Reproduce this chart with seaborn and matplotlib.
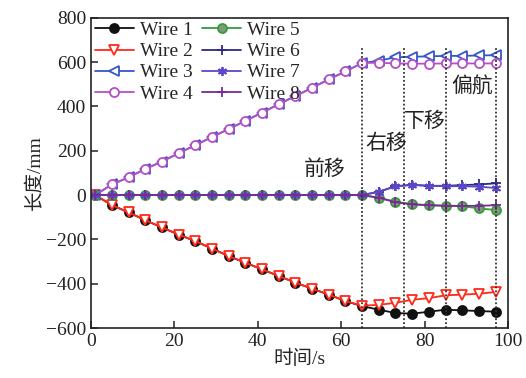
import matplotlib
matplotlib.use("Agg")
import matplotlib.pyplot as plt
import seaborn as sns
import pandas as pd

# time axis (s)
time = [1, 5, 9, 13, 17, 21, 25, 29, 33, 37, 41, 45, 49,
        53, 57, 61, 65, 69, 73, 77, 81, 85, 89, 93, 97]

wire1 = [0, -45, -78, -113, -146, -178, -208, -241, -275, -305, -335, -365, -395,
         -422, -449, -478, -501, -517, -532, -535, -526, -517, -520, -523, -526]
wire2 = [0, -45, -78, -113, -146, -178, -207, -241, -276, -305, -335, -365, -395,
         -422, -449, -478, -499, -495, -486, -472, -465, -452, -449, -445, -437]
wire3 = [0, 48, 80, 118, 151, 189, 225, 262, 298, 335, 372, 410, 447,
         484, 522, 558, 596, 606, 622, 624, 626, 628, 628, 630, 631]
wire4 = [0, 48, 80, 118, 151, 189, 225, 262, 298, 335, 372, 410, 447,
         484, 522, 558, 596, 597, 594, 593, 593, 594, 594, 594, 594]
wire5 = [0, 0, 0, 0, 0, 0, 0, 0, 0, 0, 0, 0, 0,
         0, 0, 0, 0, -12, -30, -41, -45, -48, -50, -60, -67]
wire6 = [0, 0, 0, 0, 0, 0, 0, 0, 0, 0, 0, 0, 0,
         0, 0, 0, 0, 15, 40, 46, 42, 42, 45, 48, 53]
wire7 = [0, 0, 0, 0, 0, 0, 0, 0, 0, 0, 0, 0, 0,
         0, 0, 0, 0, 15, 40, 46, 42, 40, 40, 38, 32]
wire8 = [0, 0, 0, 0, 0, 0, 0, 0, 0, 0, 0, 0, 0,
         0, 0, 0, 0, -12, -32, -42, -46, -48, -49, -48, -46]

stage_x = [65, 75, 85, 97]
stage_labels = ["前移", "右移", "下移", "偏航"]
stage_pos = [(56, 113), (70.8, 228), (80, 330), (91.5, 484)]

df = pd.DataFrame({"time": time, "Wire 1": wire1, "Wire 2": wire2, "Wire 3": wire3,
                   "Wire 4": wire4, "Wire 5": wire5, "Wire 6": wire6,
                   "Wire 7": wire7, "Wire 8": wire8})

# (color, marker, face color)
styles = {
    "Wire 1": ("#111111", "o", "#111111"),
    "Wire 2": ("#ff2a1a", "v", "white"),
    "Wire 3": ("#3656c8", "<", "white"),
    "Wire 4": ("#b54fc6", "o", "white"),
    "Wire 5": ("#3a9a3a", "o", "#7a9a7a"),
    "Wire 6": ("#2e2a80", "+", "#2e2a80"),
    "Wire 7": ("#5a48c8", (6, 2, 0), "#5a48c8"),
    "Wire 8": ("#7a2a98", "+", "#7a2a98"),
}

sns.set_style("ticks")
plt.rcParams["font.family"] = ["Liberation Serif", "Noto Sans CJK SC"]
plt.rcParams["axes.unicode_minus"] = True

fig, ax = plt.subplots(figsize=(5.26, 3.78), dpi=100)
fig.subplots_adjust(left=0.173, right=0.966, bottom=0.132, top=0.953)

for name in ["Wire 1", "Wire 2", "Wire 3", "Wire 4", "Wire 5", "Wire 6", "Wire 7", "Wire 8"]:
    c, m, fc = styles[name]
    sns.lineplot(data=df, x="time", y=name, ax=ax, color=c, marker=m,
                 markerfacecolor=fc, markeredgecolor=c, markersize=6.5,
                 markeredgewidth=1.3, linewidth=1.3, label=name)

ax.vlines(stage_x, -600, 670, colors="#333333", linestyles=(0, (1, 1.2)), linewidth=1.3)
for lab, (tx, ty) in zip(stage_labels, stage_pos):
    ax.text(tx, ty, lab, ha="center", va="center", fontsize=15, color="#222222")

ax.set_xlim(0, 100)
ax.set_ylim(-600, 800)
ax.set_xticks([0, 20, 40, 60, 80, 100])
ax.set_yticks([-600, -400, -200, 0, 200, 400, 600, 800])
ax.set_xlabel("时间/s", fontsize=14, labelpad=0)
ax.set_ylabel("长度/mm", fontsize=14, labelpad=1)
ax.tick_params(direction="in", length=5, width=1.1, labelsize=14, colors="#222222")
for sp in ax.spines.values():
    sp.set_linewidth(1.2)
    sp.set_color("#222222")

ax.legend(loc="upper left", ncol=2, frameon=False, fontsize=14,
          handlelength=2.0, handletextpad=0.3, columnspacing=0.5,
          labelspacing=0.18, borderaxespad=0.1, borderpad=0.1)

fig.savefig("out.png", dpi=100)
